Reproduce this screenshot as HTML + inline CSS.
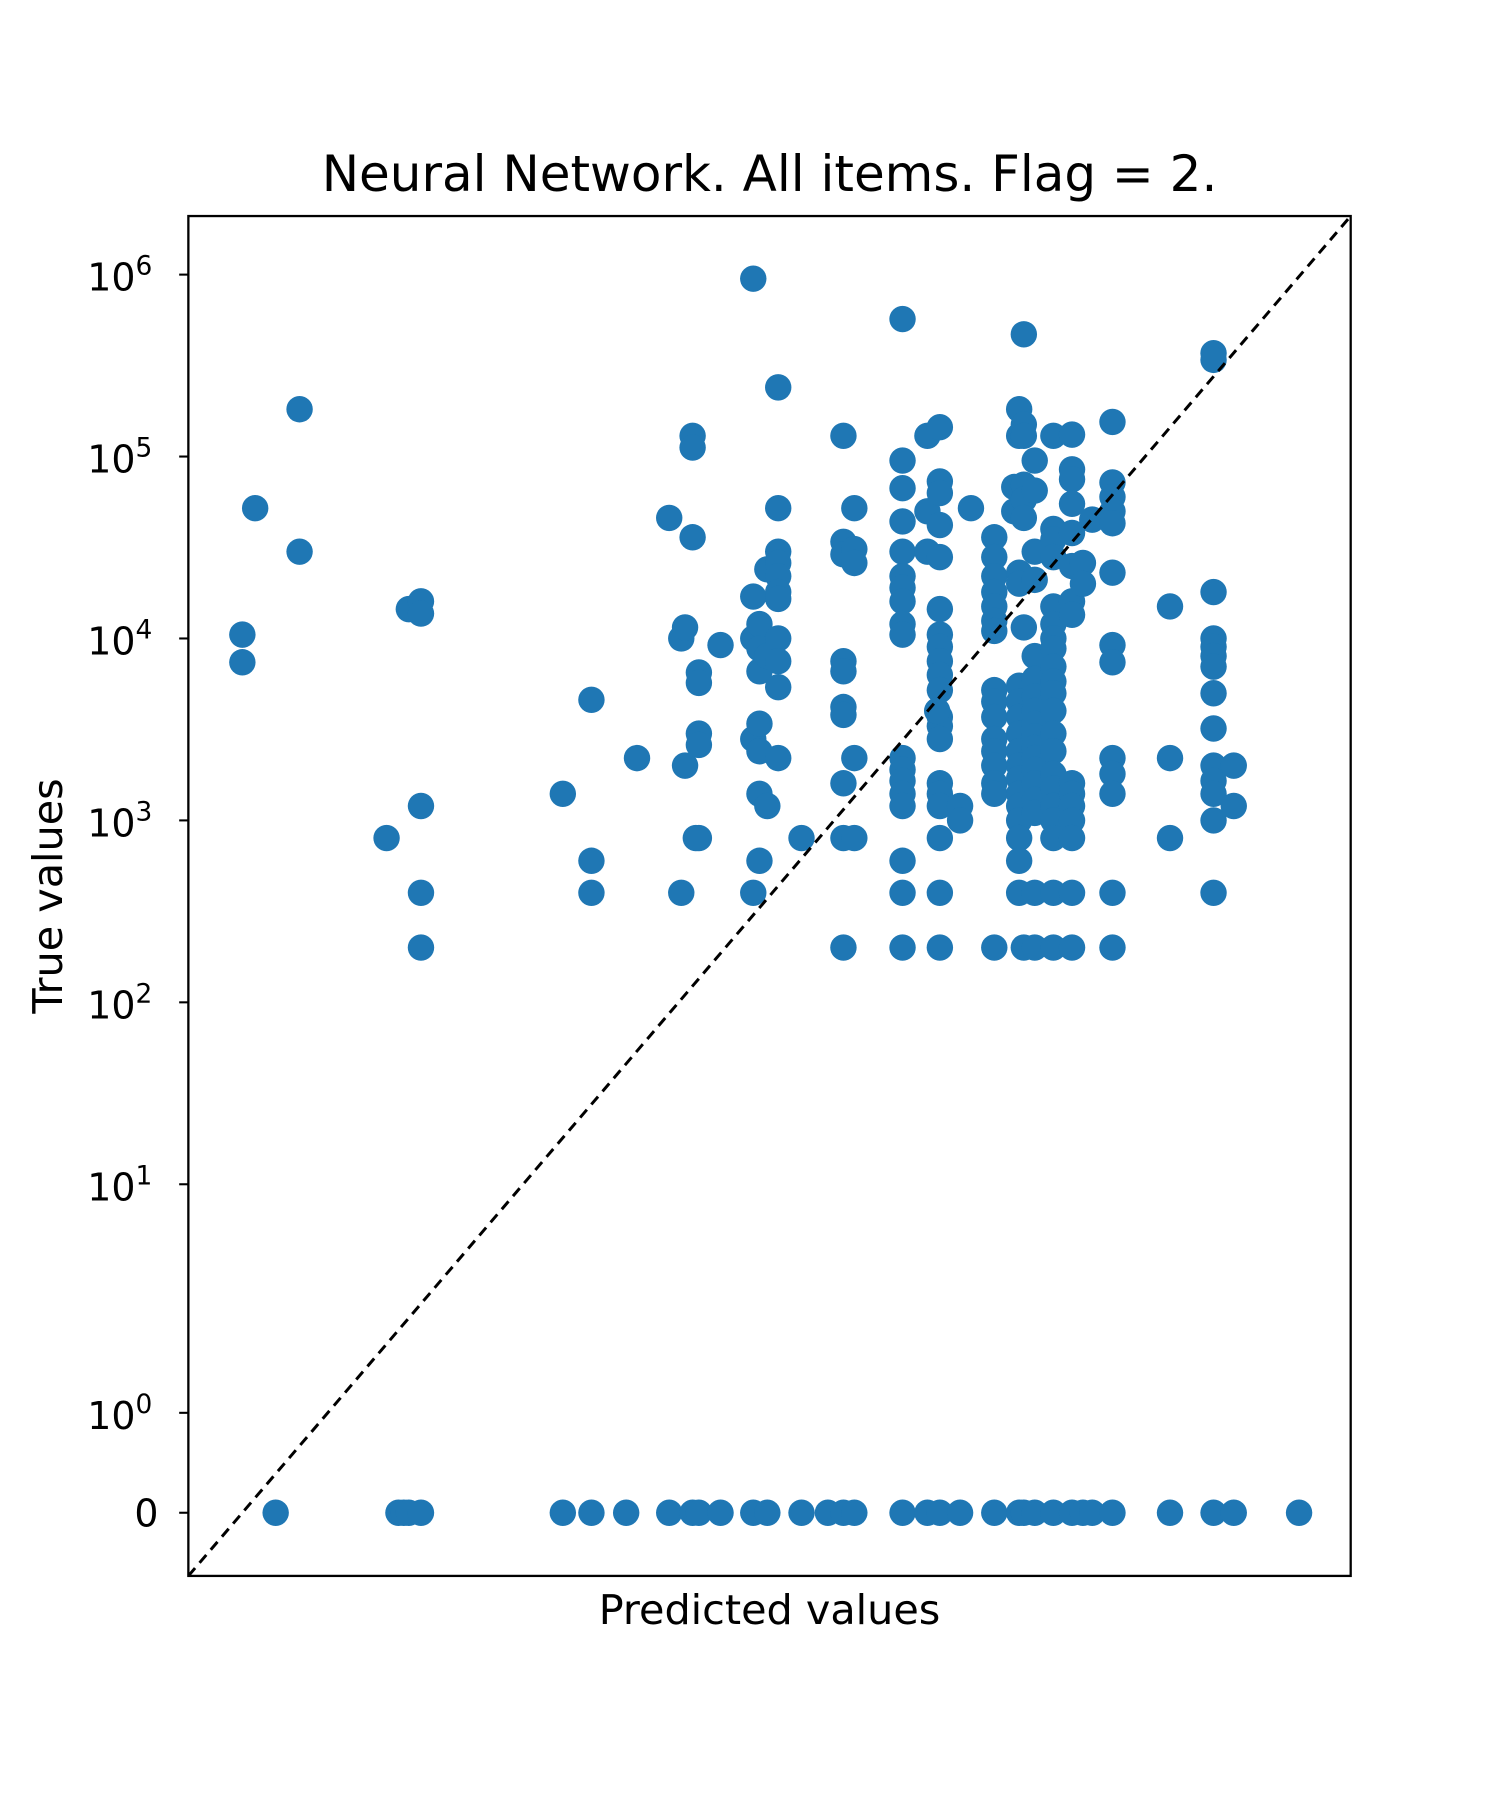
<!DOCTYPE html>
<html><head><meta charset="utf-8"><style>
html,body{margin:0;padding:0;background:#fff}
svg{display:block}
text{font-family:"DejaVu Sans","Liberation Sans",sans-serif;fill:#000}
</style></head><body>
<svg id="chart" width="1500" height="1800" viewBox="0 0 1306 1567" xmlns="http://www.w3.org/2000/svg">
<rect width="1306" height="1567" fill="#fff"/>
<text x="670" y="166" font-size="43.5" text-anchor="middle">Neural Network. All items. Flag = 2.</text>
<g id="points"></g>
<line x1="164" y1="1372" x2="1176" y2="188" stroke="#000" stroke-width="2.6" stroke-dasharray="9,6"/>
<rect x="164" y="188" width="1012" height="1184" fill="none" stroke="#000" stroke-width="2"/>
<g id="yticks"></g>
<text x="670" y="1414" font-size="36" text-anchor="middle">Predicted values</text>
<text x="0" y="0" font-size="36" text-anchor="middle" transform="translate(54,780) rotate(-90)">True values</text>
</svg>
<script>
// predicted-value columns and the true values observed at each column
const xCols = [0, 0.15, 0.67, 2.0, 2.6, 3.0, 18, 27.5, 54, 87, 104, 110, 123, 135, 129, 186, 302, 331, 372, 437, 617, 1148, 1349, 2754, 3981, 4786, 6457, 7586, 4600, 10715, 14400, 15488, 16596, 19498, 25704, 33884, 39811, 45700, 61660, 144544, 275423, 371535];
const yByCol = [
  [10500, 7400],
  [52000],
  [182000, 30000],
  [800],
  [14500],
  [16000, 13700, 1200, 400, 200],
  [1400],
  [4600, 600, 400],
  [2200],
  [46000],
  [10000, 400],
  [11500, 2000],
  [130000, 112000, 36000],
  [6500, 5700, 3000, 2600, 800],
  [800],
  [9200],
  [950000, 17000, 10000, 2800, 400],
  [12000, 8800, 6600, 3400, 2400, 1400, 600],
  [24000, 8000, 1200],
  [240000, 52000, 30000, 26000, 22000, 18000, 16500, 10000, 7500, 5400, 2200],
  [800],
  [130000, 34000, 29000, 7500, 6600, 4200, 3800, 1600, 800, 200],
  [52000, 31000, 26000, 2200, 800],
  [570000, 95000, 67000, 44000, 30000, 22000, 19000, 16000, 12000, 10500, 2200, 1900, 1650, 1400, 1200, 600, 400, 200],
  [130000, 50000, 30000],
  [145000, 73000, 63000, 42000, 28000, 14500, 10500, 9000, 7500, 6300, 5200, 3700, 3300, 2800, 1600, 1400, 1200, 800, 400, 200],
  [1200, 1000],
  [52000],
  [4000],
  [36000, 28000, 22000, 18000, 15000, 12500, 11000, 5200, 4500, 3700, 2800, 2400, 2000, 1600, 1400, 200],
  [68000, 50000],
  [182000, 130000, 23000, 20000, 5500, 4500, 3700, 3000, 2400, 2000, 1700, 1400, 1200, 1000, 800, 600, 400],
  [470000, 150000, 130000, 70000, 58000, 46000, 11500, 200],
  [95000, 65000, 30000, 21000, 8000, 6000, 4800, 4000, 3400, 2900, 2500, 2200, 1900, 1600, 1300, 1100, 400, 200],
  [130000, 40000, 35000, 28000, 15000, 12000, 10000, 8800, 7000, 5800, 5000, 4000, 3000, 2400, 1800, 1500, 1200, 1000, 800, 400, 200],
  [132000, 85000, 75000, 55000, 38000, 25000, 16000, 13500, 1600, 1400, 1200, 1000, 800, 400, 200],
  [26000, 20000],
  [45000],
  [155000, 72000, 60000, 50000, 43000, 23000, 9200, 7400, 2200, 1800, 1400, 400, 200],
  [15000, 2200, 800],
  [370000, 340000, 18000, 10000, 9000, 8000, 7000, 5000, 3200, 2000, 1650, 1400, 1000, 400],
  [2000, 1200]
];
// predicted values of points whose true value is zero
const zeroRowX = [0.39, 2.3, 2.45, 2.6, 3.0, 18, 27.5, 46, 87, 123, 135, 186, 302, 372, 617, 912, 1148, 1349, 2754, 3981, 4786, 6457, 10715, 15488, 16596, 19498, 25704, 33884, 39811, 45700, 61660, 144544, 275423, 371535, 977237];
const yTickVals = [1e6, 1e5, 1e4, 1e3, 1e2, 1e1, 1, 0];
const yTickExp = ['6', '5', '4', '3', '2', '1', '0', ''];

function yScale(v) {
  if (v < 1) return 1317 - v * 87;
  if (v < 10) return 1230 - Math.log10(v) * 199;
  return 1031 - (Math.log10(v) - 1) * 158.4;
}
function xScale(v) {
  const yeq = yScale(v);
  return 164 + (1372 - yeq) * 1012 / 1184;
}
const NS = 'http://www.w3.org/2000/svg';
const pts = document.getElementById('points');
function dot(x, y) {
  const c = document.createElementNS(NS, 'circle');
  c.setAttribute('cx', xScale(x));
  c.setAttribute('cy', yScale(y));
  c.setAttribute('r', 11.5);
  c.setAttribute('fill', '#1f77b4');
  
  
  pts.appendChild(c);
}
xCols.forEach((x, i) => { (yByCol[i] || []).forEach(y => dot(x, y)); });
zeroRowX.forEach(x => dot(x, 0));

const yt = document.getElementById('yticks');
yTickVals.forEach((v, i) => {
  const y = yScale(v);
  const l = document.createElementNS(NS, 'line');
  l.setAttribute('x1', 156); l.setAttribute('x2', 164);
  l.setAttribute('y1', y); l.setAttribute('y2', y);
  l.setAttribute('stroke', '#000'); l.setAttribute('stroke-width', 1.8);
  
  
  yt.appendChild(l);
  const t = document.createElementNS(NS, 'text');
  t.setAttribute('font-size', '33');
  
  
  if (yTickExp[i] === '') {
    t.setAttribute('x', 117); t.setAttribute('y', y + 12);
    t.textContent = '0';
  } else {
    t.setAttribute('x', 76); t.setAttribute('y', y + 14);
    const b = document.createElementNS(NS, 'tspan');
    b.textContent = '10';
    const s = document.createElementNS(NS, 'tspan');
    s.setAttribute('font-size', '23');
    s.setAttribute('dy', '-14');
    s.textContent = yTickExp[i];
    t.appendChild(b); t.appendChild(s);
  }
  yt.appendChild(t);
});
</script>
</body></html>
